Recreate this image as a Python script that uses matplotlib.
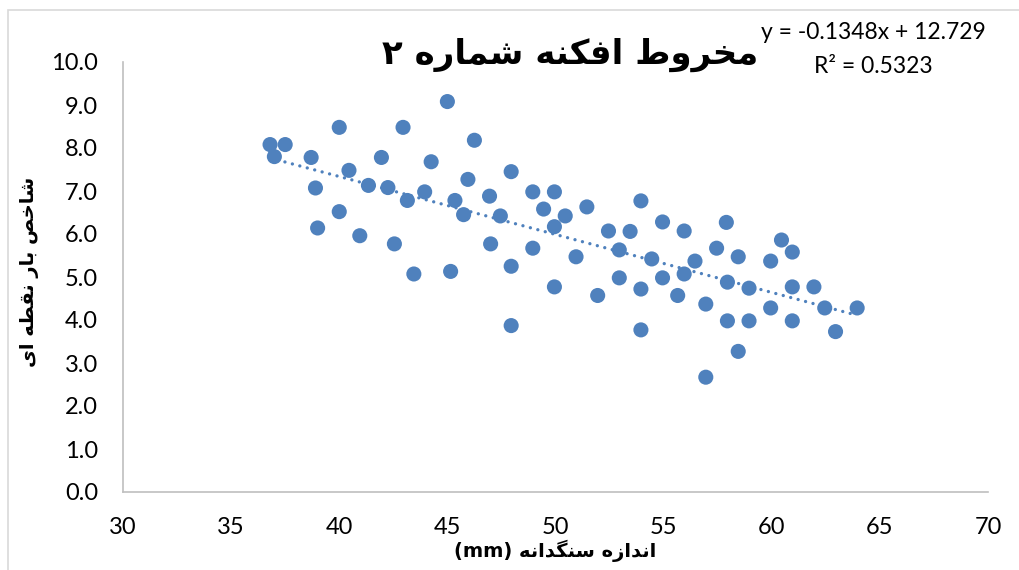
import numpy as np
import matplotlib
matplotlib.use('Agg')
import matplotlib.pyplot as plt
from matplotlib.patches import Rectangle

# داده ها (خوانده شده از نمودار)
x_mm = [36.8, 37.5, 37.0, 38.7, 38.9, 39.0, 40.0, 40.0, 40.45, 40.95,
        41.35, 41.95, 42.25, 42.55, 42.95, 43.15, 43.45, 43.95, 44.25, 45.0,
        45.15, 45.35, 45.75, 45.95, 46.25, 46.95, 47.0, 47.45, 47.95, 47.95,
        47.95, 48.95, 48.95, 49.45, 49.95, 49.95, 49.95, 50.45, 50.95, 51.45,
        51.95, 52.45, 52.95, 52.95, 53.45, 53.95, 53.95, 53.95, 54.45, 54.95,
        54.95, 55.65, 55.95, 55.95, 56.45, 56.95, 56.95, 57.45, 57.9, 57.95,
        57.95, 58.45, 58.45, 58.95, 58.95, 59.95, 59.95, 60.45, 60.95, 60.95,
        60.95, 61.95, 62.45, 62.95, 63.95]
y_idx = [8.08, 8.08, 7.8, 7.78, 7.07, 6.14, 8.48, 6.52, 7.48, 5.96,
         7.13, 7.78, 7.08, 5.77, 8.48, 6.78, 5.07, 6.98, 7.68, 9.08,
         5.13, 6.78, 6.45, 7.27, 8.18, 6.88, 5.77, 6.42, 7.45, 5.25,
         3.87, 6.98, 5.67, 6.58, 6.98, 6.17, 4.77, 6.42, 5.47, 6.63,
         4.57, 6.07, 5.63, 4.98, 6.06, 6.77, 4.72, 3.77, 5.42, 6.28,
         4.98, 4.57, 6.07, 5.07, 5.37, 4.37, 2.67, 5.67, 6.27, 4.88,
         3.98, 5.47, 3.27, 4.74, 3.98, 5.37, 4.28, 5.86, 5.58, 4.77,
         3.98, 4.77, 4.28, 3.73, 4.28]
slope = -0.1348
intercept = 12.729

x_ticks = [30, 35, 40, 45, 50, 55, 60, 65, 70]
y_ticks = [0, 1, 2, 3, 4, 5, 6, 7, 8, 9, 10]

title_txt = 'مخروط افکنه شماره ۲'
xlabel_txt = 'اندازه سنگدانه'
ylabel_txt = 'شاخص بار نقطه ای'

# شکل دهی حروف عربی/فارسی (matplotlib خودش انجام نمی دهد)
DUAL = {
    'ب': ('\uFE8F', '\uFE90', '\uFE91', '\uFE92'),
    'خ': ('\uFEA5', '\uFEA6', '\uFEA7', '\uFEA8'),
    'س': ('\uFEB1', '\uFEB2', '\uFEB3', '\uFEB4'),
    'ش': ('\uFEB5', '\uFEB6', '\uFEB7', '\uFEB8'),
    'ص': ('\uFEB9', '\uFEBA', '\uFEBB', '\uFEBC'),
    'ط': ('\uFEC1', '\uFEC2', '\uFEC3', '\uFEC4'),
    'ف': ('\uFED1', '\uFED2', '\uFED3', '\uFED4'),
    'ق': ('\uFED5', '\uFED6', '\uFED7', '\uFED8'),
    'م': ('\uFEE1', '\uFEE2', '\uFEE3', '\uFEE4'),
    'ن': ('\uFEE5', '\uFEE6', '\uFEE7', '\uFEE8'),
    'ه': ('\uFEE9', '\uFEEA', '\uFEEB', '\uFEEC'),
    'ی': ('\uFBFC', '\uFBFD', '\uFBFE', '\uFBFF'),
    'ک': ('\uFB8E', '\uFB8F', '\uFB90', '\uFB91'),
    'گ': ('\uFB92', '\uFB93', '\uFB94', '\uFB95'),
}
RIGHT = {
    'ا': ('\uFE8D', '\uFE8E'),
    'د': ('\uFEA9', '\uFEAA'),
    'ر': ('\uFEAD', '\uFEAE'),
    'ز': ('\uFEAF', '\uFEB0'),
    'و': ('\uFEED', '\uFEEE'),
}


def shape(txt):
    out = []
    for i, ch in enumerate(txt):
        prev = txt[i - 1] if i > 0 else ''
        nxt = txt[i + 1] if i + 1 < len(txt) else ''
        jp = prev in DUAL
        if ch in DUAL:
            jn = nxt in DUAL or nxt in RIGHT
            iso, fin, ini, med = DUAL[ch]
            out.append(med if (jp and jn) else fin if jp else ini if jn else iso)
        elif ch in RIGHT:
            out.append(RIGHT[ch][1] if jp else RIGHT[ch][0])
        else:
            out.append(ch)
    return ''.join(reversed(out))


blue = '#4F81BD'
grid_gray = '#BFBFBF'
num_font = ['Lato', 'DejaVu Sans']
fa_font = ['DejaVu Sans']

fig = plt.figure(figsize=(10.2, 5.7), dpi=100)
ax = fig.add_axes([123 / 1020, 1 - 492 / 570, 865 / 1020, 430 / 570])

ax.scatter(x_mm, y_idx, s=118, color=blue, edgecolors='none', zorder=3)

# خط روند
xl = np.array([min(x_mm), max(x_mm)])
ax.plot(xl, slope * xl + intercept, color=blue, lw=2.4,
        linestyle=(0, (0.01, 2.3)), dash_capstyle='round', zorder=2)

ax.set_xlim(30, 70)
ax.set_ylim(0, 10)
ax.set_xticks(x_ticks)
ax.set_yticks(y_ticks)
ax.set_xticklabels([str(v) for v in x_ticks], fontsize=17, family=num_font)
ax.set_yticklabels(['%.1f' % v for v in y_ticks], fontsize=17, family=num_font)
ax.tick_params(length=0, pad=18)
for s in ['top', 'right']:
    ax.spines[s].set_visible(False)
for s in ['left', 'bottom']:
    ax.spines[s].set_color(grid_gray)
    ax.spines[s].set_linewidth(1.2)

# عنوان و برچسب ها
fig.text(570 / 1020, 1 - 55 / 570, shape(title_txt), ha='center', va='center',
         fontsize=24.5, fontweight='bold', family=fa_font)
fig.text(555 / 1020, 1 - 551 / 570, '(mm) ' + shape(xlabel_txt), ha='center',
         va='center', fontsize=14, fontweight='bold', family=fa_font)
fig.text(30 / 1020, 1 - 272 / 570, shape(ylabel_txt), ha='center', va='center',
         rotation=90, fontsize=14, fontweight='bold', family=fa_font)

fig.text(873 / 1020, 1 - 39 / 570, 'y = -0.1348x + 12.729', ha='center',
         va='baseline', fontsize=16.5, family=num_font)
fig.text(873 / 1020, 1 - 73 / 570, 'R² = 0.5323', ha='center',
         va='baseline', fontsize=16.5, family=num_font)

# کادر نمودار
fig.patches.append(Rectangle((8 / 1020, -0.1), 1.2, 1 - 10 / 570 + 0.1,
                             transform=fig.transFigure, fill=False,
                             edgecolor='#D9D9D9', lw=1.2))

fig.savefig('out.png', dpi=100)
